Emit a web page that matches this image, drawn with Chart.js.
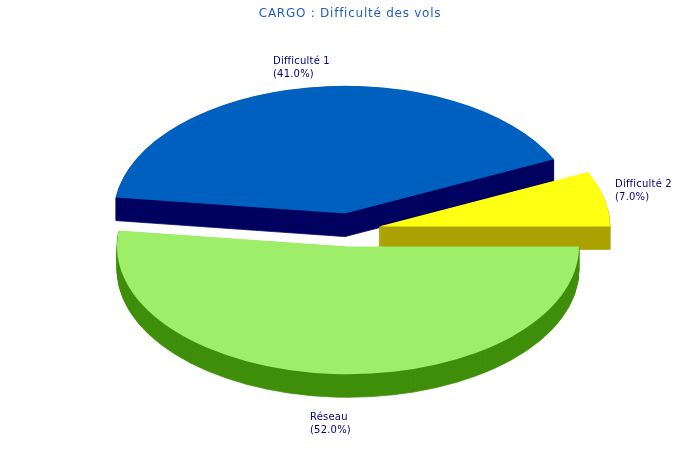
<!DOCTYPE html>
<html>
<head>
<meta charset="utf-8">
<title>CARGO</title>
<script src="https://cdn.jsdelivr.net/npm/chart.js@4"></script>
<style>
  html, body { margin: 0; padding: 0; background: #fff; }
  #wrap { width: 700px; height: 460px; }
</style>
</head>
<body>
<div id="wrap"><canvas id="pie"></canvas></div>
<script>
const categories = ['Difficulté 1', 'Difficulté 2', 'Réseau'];
const shares = [41, 7, 52];
const chartTitle = 'CARGO : Difficulté des vols';
const topColors = ['#0060bf', '#ffff14', '#9eee6a'];
const sideColors = ['#000060', '#aaa300', '#3f8f0a'];

// tilt of the fake 3D pie
const squash = 0.553;
const depth = 23;
const centerY = 230;
const explode = 30;
// left edge and first baseline of each label, as in the picture
const labelSpots = [[273, 64], [615, 187], [310, 420]];

const pie3d = {
  id: 'pie3d',
  beforeDraw(chart) {
    chart.ctx.letterSpacing = '0.75px'; // title is wider than plain DejaVu
  },
  beforeDatasetDraw(chart, args) {
    const ctx = chart.ctx;
    args.meta.data.forEach((arc, i) => {
      const base = arc.options;
      const mid = (arc.startAngle + arc.endAngle) / 2;
      const tilt = () => {
        ctx.translate(Math.round(Math.cos(mid) * explode), centerY);
        ctx.scale(1, squash);
        ctx.translate(0, Math.sin(mid) * explode - arc.y);
      };
      // side wall: same slice stacked downwards, thin border hides the soft tips
      arc.options = Object.assign({}, base, {
        backgroundColor: sideColors[i],
        borderColor: sideColors[i],
        borderWidth: 1
      });
      for (let d = depth; d > 0; d--) {
        ctx.save();
        ctx.translate(0, d);
        tilt();
        arc.draw(ctx);
        ctx.restore();
      }
      arc.options = base;
      ctx.save();
      tilt();
      arc.draw(ctx);
      ctx.restore();
    });
    return false;
  },
  afterDatasetsDraw(chart) {
    const ctx = chart.ctx;
    ctx.save();
    ctx.letterSpacing = '0.2px';
    ctx.font = '10px "DejaVu Sans"';
    ctx.fillStyle = '#000080';
    ctx.textAlign = 'left';
    ctx.textBaseline = 'alphabetic';
    categories.forEach((name, i) => {
      const [x, y] = labelSpots[i];
      ctx.fillText(name, x, y);
      ctx.fillText('(' + shares[i].toFixed(1) + '%)', x, y + 13);
    });
    ctx.restore();
  }
};

new Chart(document.getElementById('pie'), {
  type: 'pie',
  data: {
    labels: categories,
    datasets: [{
      data: shares,
      backgroundColor: topColors,
      borderWidth: 0
    }]
  },
  options: {
    responsive: true,
    maintainAspectRatio: false,
    animation: false,
    rotation: 277.2,
    radius: 231,
    plugins: {
      legend: { display: false },
      tooltip: { enabled: false },
      title: {
        display: true,
        text: chartTitle,
        color: '#1f5cc8',
        font: { family: '"DejaVu Sans"', size: 12, weight: 'normal' },
        padding: { top: 7, bottom: 5 }
      }
    }
  },
  plugins: [pie3d]
});
</script>
</body>
</html>
